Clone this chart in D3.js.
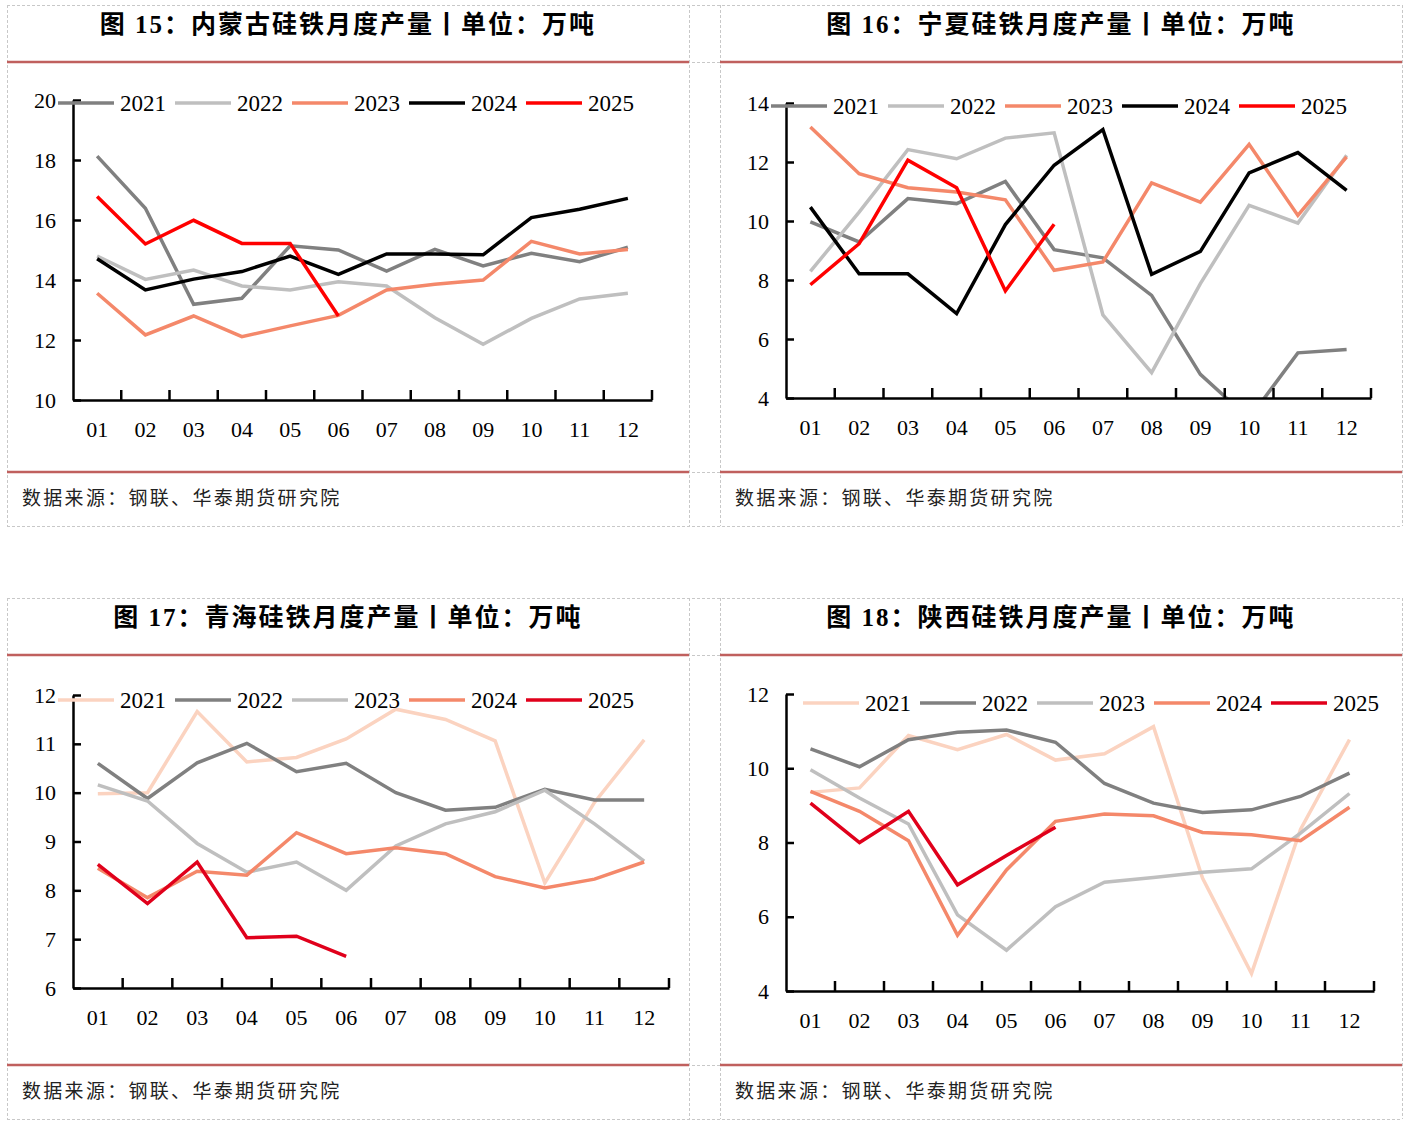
<!DOCTYPE html>
<html>
<head>
<meta charset="utf-8">
<script src="https://cdn.jsdelivr.net/npm/d3@7"></script>
<style>
  body { margin: 0; background: #fff; }
  svg { display: block; }
</style>
</head>
<body>
<svg id="fig" width="1408" height="1126"></svg>
<script>
// month categories and legend years
const months = ["01", "02", "03", "04", "05", "06", "07", "08", "09", "10", "11", "12"];
const years = ["2021", "2022", "2023", "2024", "2025"];

// 图15 内蒙古
const nmg2021 = [18.13, 16.39, 13.19, 13.39, 15.14, 15.0, 14.3, 15.02, 14.47, 14.89, 14.61, 15.09];
const nmg2022 = [14.8, 14.02, 14.33, 13.8, 13.67, 13.94, 13.8, 12.74, 11.86, 12.72, 13.37, 13.56];
const nmg2023 = [13.56, 12.17, 12.8, 12.11, 12.47, 12.82, 13.67, 13.86, 14.0, 15.29, 14.87, 15.02];
const nmg2024 = [14.71, 13.67, 14.03, 14.28, 14.8, 14.19, 14.87, 14.87, 14.84, 16.08, 16.36, 16.72];
const nmg2025 = [16.78, 15.2, 15.99, 15.22, 15.22, 12.8];

// 图16 宁夏
const nx2021 = [9.97, 9.29, 10.76, 10.59, 11.34, 9.03, 8.75, 7.48, 4.8, 3.3, 5.53, 5.64];
const nx2022 = [8.29, 10.3, 12.42, 12.11, 12.81, 12.99, 6.82, 4.86, 7.88, 10.53, 9.93, 12.23];
const nx2023 = [13.19, 11.6, 11.13, 10.98, 10.72, 8.33, 8.61, 11.29, 10.64, 12.6, 10.19, 12.17];
const nx2024 = [10.47, 8.21, 8.21, 6.86, 9.88, 11.89, 13.1, 8.19, 8.97, 11.63, 12.32, 11.04];
const nx2025 = [7.84, 9.23, 12.06, 11.13, 7.63, 9.89];

// 图17 青海
const qh2021 = [9.98, 10.0, 11.66, 10.63, 10.72, 11.1, 11.71, 11.5, 11.06, 8.15, 9.8, 11.08];
const qh2022 = [10.6, 9.88, 10.61, 11.01, 10.43, 10.6, 10.0, 9.64, 9.7, 10.07, 9.85, 9.85];
const qh2023 = [10.16, 9.83, 8.96, 8.37, 8.58, 8.0, 8.91, 9.36, 9.61, 10.05, 9.36, 8.6];
const qh2024 = [8.45, 7.85, 8.39, 8.31, 9.18, 8.75, 8.87, 8.75, 8.28, 8.05, 8.23, 8.58];
const qh2025 = [8.53, 7.73, 8.58, 7.03, 7.06, 6.65];

// 图18 陕西
const sx2021 = [9.35, 9.47, 10.88, 10.5, 10.91, 10.22, 10.39, 11.12, 7.04, 4.47, 8.35, 10.77];
const sx2022 = [10.52, 10.04, 10.77, 10.97, 11.03, 10.7, 9.59, 9.06, 8.81, 8.88, 9.24, 9.87];
const sx2023 = [9.96, 9.2, 8.5, 6.05, 5.1, 6.27, 6.93, 7.06, 7.2, 7.29, 8.25, 9.32];
const sx2024 = [9.38, 8.84, 8.05, 5.5, 7.26, 8.57, 8.77, 8.72, 8.27, 8.21, 8.05, 8.95];
const sx2025 = [9.06, 8.0, 8.84, 6.86, 7.65, 8.41];

const colorsA = ["#808080", "#bfbfbf", "#f4886a", "#000000", "#ff0000"];
const colorsB = ["#fbd3c0", "#808080", "#bfbfbf", "#f4886a", "#e0001b"];

const source = "数据来源：钢联、华泰期货研究院";
const serif = "'Liberation Serif', 'Times New Roman', serif";
const cjk = "'Liberation Serif', 'Noto Sans CJK SC', sans-serif";

const charts = [
  { id: "c15", title: "图 15：内蒙古硅铁月度产量丨单位：万吨", px: 7, py: 5,
    plot: { l: 73, r: 652, t: 100, b: 400 }, legX: 58, legY: 103,
    yDom: [10, 20], yStep: 2, colors: colorsA,
    series: [nmg2021, nmg2022, nmg2023, nmg2024, nmg2025] },
  { id: "c16", title: "图 16：宁夏硅铁月度产量丨单位：万吨", px: 720, py: 5,
    plot: { l: 786, r: 1371, t: 103, b: 398 }, legX: 771, legY: 106,
    yDom: [4, 14], yStep: 2, colors: colorsA,
    series: [nx2021, nx2022, nx2023, nx2024, nx2025] },
  { id: "c17", title: "图 17：青海硅铁月度产量丨单位：万吨", px: 7, py: 598,
    plot: { l: 73, r: 669, t: 695, b: 988 }, legX: 58, legY: 700,
    yDom: [6, 12], yStep: 1, colors: colorsB,
    series: [qh2021, qh2022, qh2023, qh2024, qh2025] },
  { id: "c18", title: "图 18：陕西硅铁月度产量丨单位：万吨", px: 720, py: 598,
    plot: { l: 786, r: 1374, t: 694, b: 991 }, legX: 803, legY: 703,
    yDom: [4, 12], yStep: 2, colors: colorsB,
    series: [sx2021, sx2022, sx2023, sx2024, sx2025] }
];

const svg = d3.select("#fig");

// table frame (dashed grid) for both rows
function frame(top) {
  const g = svg.append("g").attr("stroke", "#c8c8c8").attr("stroke-width", 1)
    .attr("stroke-dasharray", "3,2").attr("fill", "none");
  [top, top + 57, top + 467, top + 521].forEach(y =>
    g.append("line").attr("x1", 7).attr("x2", 1402).attr("y1", y + 0.5).attr("y2", y + 0.5));
  [7, 689, 720, 1402].forEach(x =>
    g.append("line").attr("x1", x + 0.5).attr("x2", x + 0.5).attr("y1", top).attr("y2", top + 521));
}
frame(5);
frame(598);

function draw(c) {
  const g = svg.append("g").attr("id", c.id);
  const pw = 682;

  // title + red rules
  g.append("text")
    .attr("x", c.px + pw / 2).attr("y", c.py + 28)
    .attr("text-anchor", "middle")
    .attr("font-family", cjk).attr("font-weight", "bold").attr("font-size", 25)
    .attr("letter-spacing", 2)
    .attr("fill", "#000")
    .text(c.title);
  [c.py + 57, c.py + 467].forEach(y =>
    g.append("line").attr("x1", c.px).attr("x2", c.px + pw)
      .attr("y1", y).attr("y2", y)
      .attr("stroke", "#c0605e").attr("stroke-width", 2.5));
  g.append("text")
    .attr("x", c.px + 15).attr("y", c.py + 500)
    .attr("font-family", "'Noto Sans CJK SC', sans-serif").attr("font-size", 19)
    .attr("letter-spacing", 2.3)
    .attr("fill", "#222")
    .text(source);

  const x = d3.scaleBand().domain(months).range([c.plot.l, c.plot.r]).padding(0);
  const y = d3.scaleLinear().domain(c.yDom).range([c.plot.b, c.plot.t]);
  const yTicks = d3.range(c.yDom[0], c.yDom[1] + 0.001, c.yStep);

  // clip so lines dropping below the axis are cut
  svg.append("clipPath").attr("id", c.id + "clip")
    .append("rect").attr("x", c.plot.l).attr("y", c.plot.t - 5)
    .attr("width", c.plot.r - c.plot.l + 5).attr("height", c.plot.b - c.plot.t + 5);

  const line = d3.line()
    .x((d, i) => x(months[i]) + x.bandwidth() / 2)
    .y(d => y(d));

  const lines = g.append("g").attr("clip-path", `url(#${c.id}clip)`);
  c.series.forEach((s, i) => {
    lines.append("path")
      .attr("d", line(s))
      .attr("fill", "none")
      .attr("stroke", c.colors[i])
      .attr("stroke-width", 3.5)
      .attr("stroke-linejoin", "miter")
      .attr("stroke-linecap", "butt");
  });

  // y axis, ticks pointing inward
  const ya = g.append("g").attr("transform", `translate(${c.plot.l},0)`)
    .call(d3.axisLeft(y).tickValues(yTicks).tickSize(-8).tickSizeOuter(0).tickPadding(17)
      .tickFormat(d3.format("d")));
  ya.select(".domain").attr("stroke", "#000").attr("stroke-width", 2.5);
  ya.selectAll(".tick line").attr("stroke", "#000").attr("stroke-width", 2.5);
  ya.selectAll("text").attr("font-family", serif).attr("font-size", 22).attr("fill", "#000");

  // x axis: labels centred in bands, ticks on band edges
  const xa = g.append("g").attr("transform", `translate(0,${c.plot.b})`)
    .call(d3.axisBottom(x).tickSize(0).tickSizeOuter(0).tickPadding(21));
  xa.select(".domain").attr("stroke", "#000").attr("stroke-width", 2.5);
  xa.selectAll("text").attr("font-family", serif).attr("font-size", 22).attr("fill", "#000");
  months.forEach(m => {
    const xe = x(m) + x.bandwidth();
    g.append("line").attr("x1", xe).attr("x2", xe)
      .attr("y1", c.plot.b).attr("y2", c.plot.b - 10)
      .attr("stroke", "#000").attr("stroke-width", 2.5);
  });

  // legend
  const leg = g.append("g");
  years.forEach((yr, i) => {
    const lx = c.legX + i * 117;
    leg.append("line").attr("x1", lx).attr("x2", lx + 56)
      .attr("y1", c.legY).attr("y2", c.legY)
      .attr("stroke", c.colors[i]).attr("stroke-width", 3.5);
    leg.append("text").attr("x", lx + 62).attr("y", c.legY + 8)
      .attr("font-family", serif).attr("font-size", 23).attr("fill", "#000")
      .text(yr);
  });
}

charts.forEach(draw);
</script>
</body>
</html>
